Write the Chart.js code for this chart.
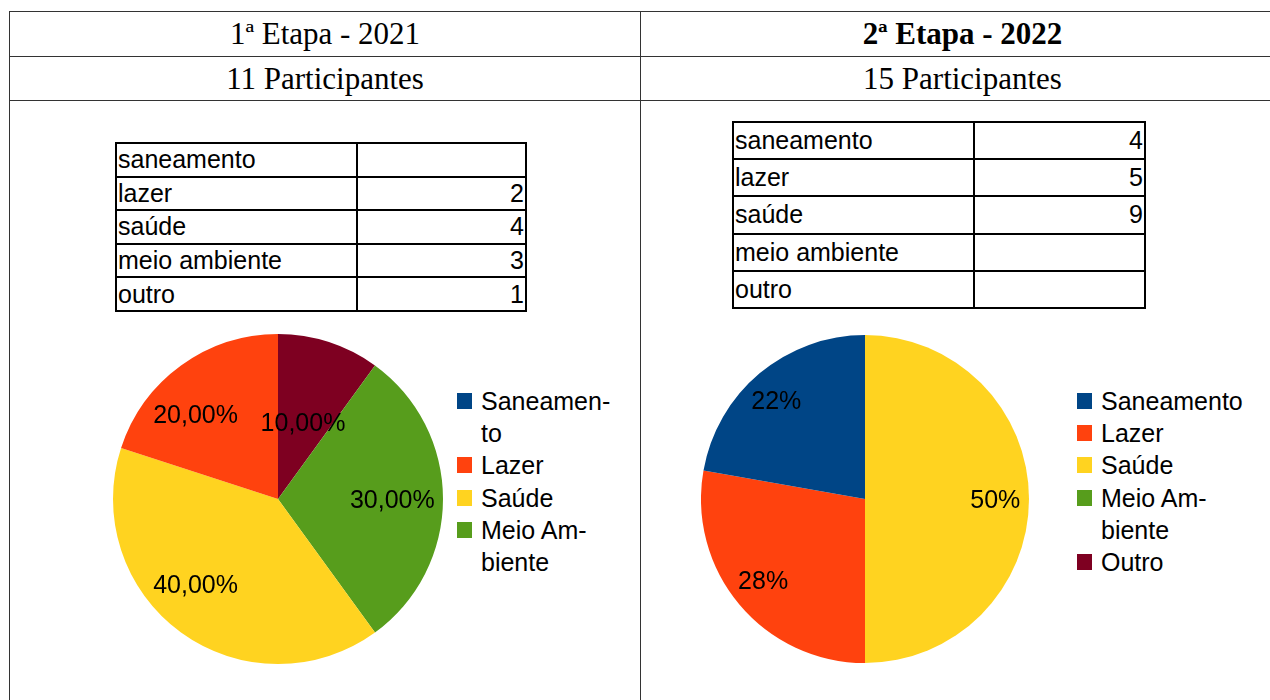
<!DOCTYPE html>
<html><head><meta charset="utf-8">
<script src="https://cdn.jsdelivr.net/npm/chart.js@4.4.0/dist/chart.umd.min.js"></script>
<style>
html,body{margin:0;padding:0;background:#fff;width:1270px;height:700px;overflow:hidden;position:relative;font-family:"Liberation Sans",Arial,sans-serif;color:#000}
.hl{position:absolute;height:1px;background:#333;left:9px;width:1270px}
.vl{position:absolute;width:1px;background:#333;top:11px;height:700px}
.hdr{position:absolute;font-family:"Liberation Serif","Times New Roman",serif;font-size:31px;display:flex;align-items:center;justify-content:center}
table.dt{position:absolute;border-collapse:collapse;font-size:25px;table-layout:fixed}
table.dt td{border:2px solid #000;padding:0 1px;line-height:1;white-space:nowrap;overflow:hidden;vertical-align:middle}
table.dt td.n{text-align:right}
.leg{position:absolute;font-size:25px;line-height:32.2px}
.leg .it{position:relative;padding-left:24px;white-space:pre-line}
.leg .sw{position:absolute;left:0;top:8px;width:15px;height:16px}
.pie{position:absolute}
</style>
</head><body>
<div class="hl" style="top:11px"></div>
<div class="hl" style="top:56px"></div>
<div class="hl" style="top:100px"></div>
<div class="vl" style="left:9px"></div>
<div class="vl" style="left:640px"></div>
<div class="hdr" id="h1" style="left:10px;top:12px;width:630px;height:44px"></div>
<div class="hdr" id="h2" style="left:641px;top:12px;width:643px;height:44px;font-weight:bold"></div>
<div class="hdr" id="p1" style="left:10px;top:57px;width:630px;height:43px"></div>
<div class="hdr" id="p2" style="left:641px;top:57px;width:643px;height:43px"></div>

<table class="dt" id="t1" style="left:115px;top:142px;width:412px"></table>
<table class="dt" id="t2" style="left:732px;top:121px;width:414px"></table>

<div class="pie" style="left:113px;top:334px;width:330px;height:330px"><canvas id="c1" width="330" height="330"></canvas></div>
<div class="pie" style="left:701px;top:335px;width:328px;height:328px"><canvas id="c2" width="328" height="328"></canvas></div>

<div class="leg" id="l1" style="left:457px;top:385px"></div>
<div class="leg" id="l2" style="left:1077px;top:385px"></div>

<script>
// ---- data ----
const titles = ['1ª Etapa - 2021', '2ª Etapa - 2022'];
const participants = ['11 Participantes', '15 Participantes'];
const tableCategories = ['saneamento', 'lazer', 'saúde', 'meio ambiente', 'outro'];
const legendCategories = ['Saneamento', 'Lazer', 'Saúde', 'Meio Ambiente', 'Outro'];
const values2021 = [null, 2, 4, 3, 1];
const values2022 = [4, 5, 9, null, null];
const legendLines2021 = ['Saneamen-\nto', 'Lazer', 'Saúde', 'Meio Am-\nbiente'];
const legendLines2022 = ['Saneamento', 'Lazer', 'Saúde', 'Meio Am-\nbiente', 'Outro'];
const colors = ['#004586', '#ff420e', '#ffd320', '#579d1c', '#7e0021'];

// ---- headers ----
document.getElementById('h1').textContent = titles[0];
document.getElementById('h2').textContent = titles[1];
document.getElementById('p1').textContent = participants[0];
document.getElementById('p2').textContent = participants[1];

function buildTable(id, vals, rowH) {
  const t = document.getElementById(id);
  let html = '<colgroup><col style="width:241px"><col></colgroup>';
  tableCategories.forEach((c, i) => {
    html += '<tr style="height:' + rowH + 'px"><td>' + c + '</td><td class="n">' + (vals[i] == null ? '' : vals[i]) + '</td></tr>';
  });
  t.innerHTML = html;
}
buildTable('t1', values2021, 33.6);
buildTable('t2', values2022, 37.2);

function buildLegend(id, lines) {
  const el = document.getElementById(id);
  lines.forEach((txt, i) => {
    const it = document.createElement('div');
    it.className = 'it';
    const sw = document.createElement('span');
    sw.className = 'sw';
    sw.style.background = colors[i];
    it.appendChild(sw);
    it.appendChild(document.createTextNode(txt));
    el.appendChild(it);
  });
}
buildLegend('l1', legendLines2021);
buildLegend('l2', legendLines2022);

// ---- percent labels plugin ----
const pctLabels = {
  id: 'pctLabels',
  afterDatasetsDraw(chart, args, opts) {
    const ctx = chart.ctx;
    const meta = chart.getDatasetMeta(0);
    const data = chart.data.datasets[0].data;
    const total = data.reduce((a, b) => a + (b || 0), 0);
    ctx.save();
    ctx.font = '25px "Liberation Sans", Arial, sans-serif';
    ctx.fillStyle = '#000';
    ctx.textAlign = 'center';
    ctx.textBaseline = 'middle';
    meta.data.forEach((arc, i) => {
      const v = data[i];
      if (!v) return;
      const frac = v / total;
      const p = arc.getProps(['x', 'y', 'startAngle', 'endAngle', 'outerRadius'], true);
      const mid = (p.startAngle + p.endAngle) / 2;
      const txt = opts.decimals ? (frac * 100).toFixed(2).replace('.', ',') + '%' : Math.round(frac * 100) + '%';
      const w = ctx.measureText(txt).width;
      const h = 20;
      const dx = Math.cos(mid), dy = Math.sin(mid);
      const R = p.outerRadius;
      let cx, cy;
      if (frac < 0.15) {
        cx = dx * R * 0.49; cy = dy * R * 0.49;
      } else {
        cx = dx * R * opts.radius + (Math.abs(dx) > 0.35 ? Math.sign(dx) * opts.push * w / 2 : 0);
        cy = dy * R * opts.radius * 1.04;
        // keep the text box inside the pie
        const lim = R - 6;
        for (let k = 0; k < 60; k++) {
          const fx = Math.abs(cx) + w / 2, fy = Math.abs(cy) + h / 2;
          if (Math.sqrt(fx * fx + fy * fy) <= lim) break;
          cx *= 0.98; cy *= 0.98;
        }
      }
      ctx.fillText(txt, p.x + cx, p.y + cy + 2);
    });
    ctx.restore();
  }
};

// LibreOffice draws slices counter-clockwise from 12 o'clock; Chart.js goes clockwise,
// so feed the categories in reverse order.
function makePie(id, vals, decimals, radius, push) {
  const rev = vals.map(v => v == null ? 0 : v).slice().reverse();
  new Chart(document.getElementById(id), {
    type: 'pie',
    data: {
      labels: legendCategories.slice().reverse(),
      datasets: [{ data: rev, backgroundColor: colors.slice().reverse(), borderWidth: 0 }]
    },
    options: {
      responsive: false,
      animation: false,
      events: [],
      layout: { padding: 0 },
      plugins: {
        legend: { display: false },
        tooltip: { enabled: false },
        pctLabels: { decimals: decimals, radius: radius, push: push }
      }
    },
    plugins: [pctLabels]
  });
}
makePie('c1', values2021, true, 0.61, 0.55);
makePie('c2', values2022, false, 0.756, 0.36);
</script>
</body></html>
